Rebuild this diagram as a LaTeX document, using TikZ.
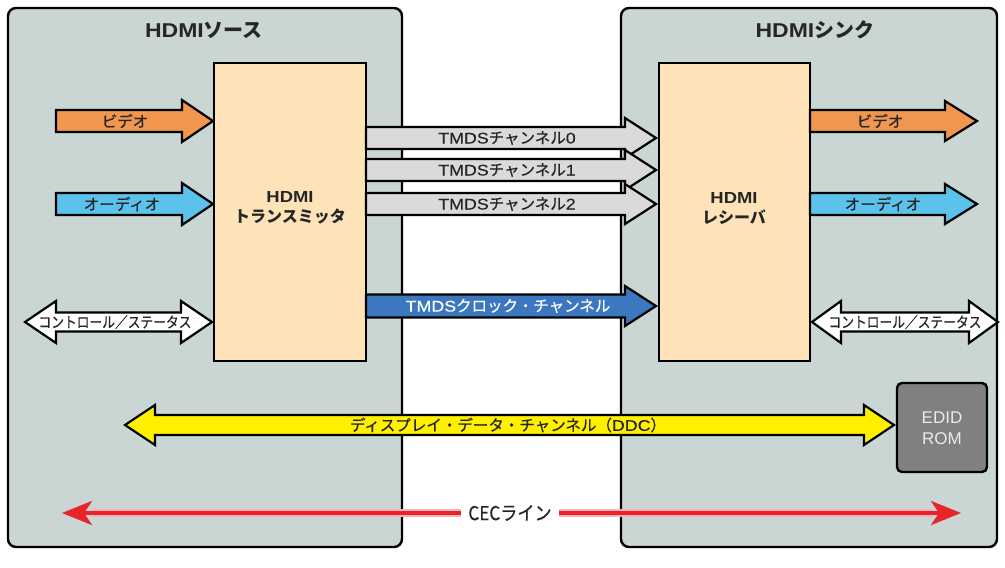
\documentclass[tikz,border=0pt]{standalone}
\usepackage{fontspec}
\setmainfont{Noto Sans CJK JP}
\newfontfamily\jpm[FakeBold=0.5]{Noto Sans CJK JP}
\newfontfamily\latm[FakeStretch=1.15,FakeBold=0.4]{Liberation Sans}
\newfontfamily\latp[FakeStretch=1.15]{Liberation Sans}
\newcommand\latn[1]{{\latm #1}}
\newcommand\latbb[1]{{\latp\bfseries #1}}
\usetikzlibrary{arrows.meta}
\definecolor{panelc}{HTML}{C9D6D3}
\definecolor{chipc}{HTML}{FDE3B7}
\definecolor{vidc}{HTML}{F0964F}
\definecolor{audc}{HTML}{5BC2EC}
\definecolor{tmdsc}{HTML}{DADADA}
\definecolor{clkc}{HTML}{3C78BF}
\definecolor{ddcc}{HTML}{FFF000}
\definecolor{cecc}{HTML}{E8232A}
\definecolor{romc}{HTML}{808080}
% right block arrow: x0, xtip, y, half shaft, half head, head length, style
\newcommand\rarr[7]{\draw[#7] (#1,#3-#4) -- (#2-#6,#3-#4) -- (#2-#6,#3-#5) -- (#2,#3) -- (#2-#6,#3+#5) -- (#2-#6,#3+#4) -- (#1,#3+#4) -- cycle;}
% double block arrow: xleft tip, xright tip, y, half shaft, half head, head length, style
\newcommand\darr[7]{\draw[#7] (#1,#3) -- (#1+#6,#3-#5) -- (#1+#6,#3-#4) -- (#2-#6,#3-#4) -- (#2-#6,#3-#5) -- (#2,#3) -- (#2-#6,#3+#5) -- (#2-#6,#3+#4) -- (#1+#6,#3+#4) -- (#1+#6,#3+#5) -- cycle;}
\begin{document}
\begin{tikzpicture}[x=1pt,y=-1pt,
  panel/.style={draw=black,fill=panelc,line width=2.4pt,rounded corners=8pt},
  chip/.style={draw=black,fill=chipc,line width=2.4pt},
  barr/.style={draw=black,line width=2.2pt,line join=miter},
  ttl/.style={font=\bfseries\fontsize{20}{22}\selectfont,text=black!85},
  chiplbl/.style={font=\bfseries\fontsize{16}{20}\selectfont,align=center,text=black!85},
  lbl/.style={font=\jpm\fontsize{15.5}{17}\selectfont,inner sep=0pt,text=black!85},
  sml/.style={font=\jpm\fontsize{15}{17}\selectfont,inner sep=0pt,text=black!85}]
\useasboundingbox (0,0) rectangle (1005,568);
% panels
\draw[panel] (8,8) rectangle (402,547);
\draw[panel] (621,8) rectangle (997,547);
\node[ttl] (srcT) at (204,30) {\latbb{HDMI}ソース};
\node[ttl] (snkT) at (815,30) {\latbb{HDMI}シンク};
% chips
\draw[chip] (214,63) rectangle (366,361);
\draw[chip] (659,63) rectangle (810,361);
\node[chiplbl] (tx) at (290,208) {\latbb{HDMI}\\トランスミッタ};
\node[chiplbl] (rx) at (734,208) {\latbb{HDMI}\\レシーバ};
% left inputs
\rarr{56}{213}{121}{11}{21}{31}{barr,fill=vidc}
\node[lbl] (vidL) at (125,121) {ビデオ};
\rarr{56}{213}{204}{11}{21}{31}{barr,fill=audc}
\node[lbl] (audL) at (122,204) {オーディオ};
\darr{25}{212}{322}{9.5}{21}{31}{barr,fill=white}
\node[sml] (ctlL) at (115,322) {\scalebox{0.85}[1]{コントロール／ステータス}};
% right outputs
\rarr{810}{977}{121}{11}{20}{32}{barr,fill=vidc}
\node[lbl] (vidR) at (880,121) {ビデオ};
\rarr{810}{977}{204}{11}{20}{32}{barr,fill=audc}
\node[lbl] (audR) at (883,204) {オーディオ};
\darr{812}{998}{322}{9.5}{21}{29}{barr,fill=white}
\node[sml] (ctlR) at (905,322) {\scalebox{0.85}[1]{コントロール／ステータス}};
% TMDS channels
\rarr{366}{656}{138}{11}{20}{31}{barr,fill=tmdsc}
\node[lbl] (t0) at (507,138) {\latn{TMDS}チャンネル\latn{0}};
\rarr{366}{656}{170}{11}{20}{31}{barr,fill=tmdsc}
\node[lbl] (t1) at (507,170) {\latn{TMDS}チャンネル\latn{1}};
\rarr{366}{656}{204}{11}{20}{31}{barr,fill=tmdsc}
\node[lbl] (t2) at (507,204) {\latn{TMDS}チャンネル\latn{2}};
\rarr{366}{656}{306}{11.5}{20}{31}{barr,fill=clkc}
\node[lbl,text=white] (clk) at (508,306) {\latn{TMDS}クロック・チャンネル};
% EDID ROM
\draw[draw=black,fill=romc,line width=2.4pt,rounded corners=5pt] (897,383) rectangle (987,472);
\node[font=\latp\fontsize{17}{21}\selectfont,text=white!92!black,align=center,inner sep=0pt] (edid) at (942,428) {\scalebox{0.87}[1]{EDID}\\\scalebox{0.87}[1]{ROM}};
% DDC
\darr{125}{894}{425}{10}{20}{30}{barr,fill=ddcc}
\node[lbl] (ddc) at (508,425) {ディスプレイ・データ・チャンネル（\latn{DDC}）};
% CEC
\coordinate (cecL) at (62,513);
\coordinate (cecR) at (961,513);
\draw[cecc!35,line width=8pt] (90,513) -- (933,513);
\draw[cecc,line width=4pt,-{Stealth[length=30pt,width=24pt,inset=8pt]}] (510,513) -- (cecR);
\draw[cecc,line width=4pt,-{Stealth[length=30pt,width=24pt,inset=8pt]}] (510,513) -- (cecL);
\node[fill=white,inner xsep=7pt,inner ysep=3pt,font=\jpm\fontsize{19}{21}\selectfont,text=black!85] (cec) at (510,513) {\scalebox{0.9}[1]{CECライン}};
\end{tikzpicture}
\end{document}
